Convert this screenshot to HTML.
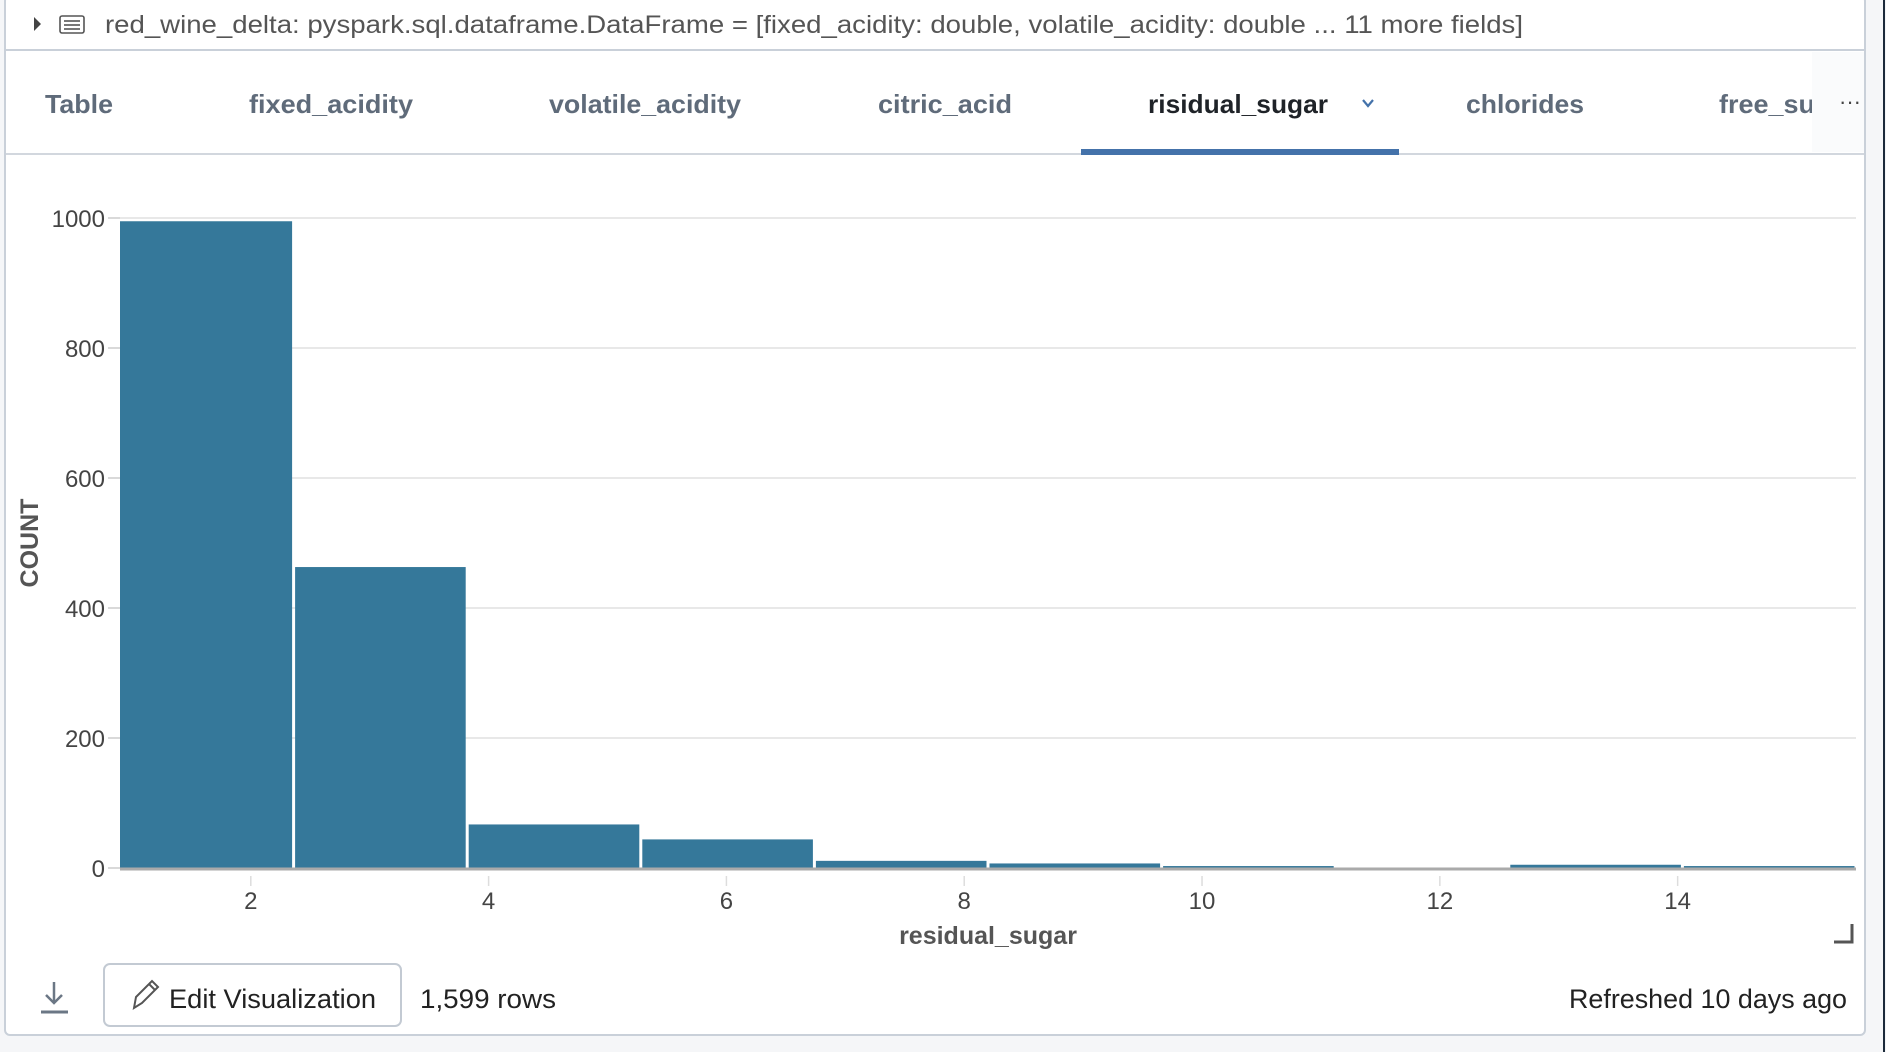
<!DOCTYPE html>
<html><head><meta charset="utf-8"><style>
html,body{margin:0;padding:0;background:#f5f6f8;}
svg{display:block;font-family:"Liberation Sans",sans-serif;}
</style></head><body>
<svg id="root" width="1886" height="1052" viewBox="0 0 1886 1052" xmlns="http://www.w3.org/2000/svg">
  <rect x="0" y="0" width="1886" height="1052" fill="#f5f6f8"/>
  <rect x="5" y="-4" width="1860" height="1039" rx="5" fill="#fff" stroke="#c9d0d9" stroke-width="2"/>
  <line x1="1884" y1="0" x2="1884" y2="1052" stroke="#1c2a3a" stroke-width="2"/>
  <!-- header -->
  <path d="M34 17 L41 24 L34 31 Z" fill="#444"/>
  <g fill="none" stroke="#555" stroke-width="1.6">
    <rect x="60" y="16" width="24" height="17" rx="2"/>
    <line x1="64" y1="21" x2="80" y2="21"/><line x1="64" y1="25" x2="80" y2="25"/><line x1="64" y1="29" x2="80" y2="29"/>
  </g>
  <text x="105" y="33" font-size="25" fill="#555" textLength="1418" lengthAdjust="spacingAndGlyphs">red_wine_delta:  pyspark.sql.dataframe.DataFrame = [fixed_acidity: double, volatile_acidity: double ... 11 more fields]</text>
  <line x1="6" y1="50" x2="1864" y2="50" stroke="#c9d0d9" stroke-width="2"/>
  <!-- tabs -->
  <g font-size="26" font-weight="bold" fill="#5f6b7a">
    <text x="45" y="113" textLength="68" lengthAdjust="spacingAndGlyphs">Table</text>
    <text x="249" y="113" textLength="164" lengthAdjust="spacingAndGlyphs">fixed_acidity</text>
    <text x="549" y="113" textLength="192" lengthAdjust="spacingAndGlyphs">volatile_acidity</text>
    <text x="878" y="113" textLength="134" lengthAdjust="spacingAndGlyphs">citric_acid</text>
    <text x="1148" y="113" textLength="180" lengthAdjust="spacingAndGlyphs" fill="#1f2328">risidual_sugar</text>
    <text x="1466" y="113" textLength="118" lengthAdjust="spacingAndGlyphs">chlorides</text>
    <text x="1719" y="113" textLength="96" lengthAdjust="spacingAndGlyphs">free_su</text>
  </g>
  <path d="M1363 100 L1368 106 L1373 100" fill="none" stroke="#4472aa" stroke-width="2.2"/>
  <rect x="1812" y="52" width="52" height="100" fill="#fafbfc"/>
  <text x="1839" y="109" font-size="22" fill="#444">···</text>
  <line x1="6" y1="154" x2="1864" y2="154" stroke="#d2d7de" stroke-width="2"/>
  <rect x="1081" y="149" width="318" height="6" fill="#4472aa"/>
  <!-- chart -->
  <g id="chart"></g>
  <text x="988" y="944" text-anchor="middle" font-size="25" font-weight="bold" fill="#555">residual_sugar</text>
  <text transform="translate(38 543) rotate(-90)" text-anchor="middle" font-size="25" font-weight="bold" fill="#555">COUNT</text>
  <path d="M1834 942 L1852 942 L1852 924" fill="none" stroke="#555" stroke-width="3"/>
  <!-- footer -->
  <g stroke="#6b7785" stroke-width="2.5" fill="none">
    <line x1="54" y1="982" x2="54" y2="1003"/><path d="M46 995 L54 1003 L62 995"/><line x1="41" y1="1012" x2="68" y2="1012" stroke-width="3"/>
  </g>
  <rect x="104" y="964" width="297" height="62" rx="6" fill="#fff" stroke="#c3cad3" stroke-width="2"/>
  <g fill="none" stroke="#555" stroke-width="2">
    <path d="M134 1008 L136 997 L152 981 L158 987 L142 1003 Z"/><line x1="149" y1="984" x2="155" y2="990"/>
  </g>
  <text x="169" y="1008" font-size="27" fill="#222" textLength="207" lengthAdjust="spacingAndGlyphs">Edit Visualization</text>
  <text x="420" y="1008" font-size="27" fill="#222" textLength="136" lengthAdjust="spacingAndGlyphs">1,599 rows</text>
  <text x="1847" y="1008" text-anchor="end" font-size="27" fill="#222" textLength="278" lengthAdjust="spacingAndGlyphs">Refreshed 10 days ago</text>
</svg>
<script>
const binEdges = [0.9, 2.36, 3.82, 5.28, 6.74, 8.2, 9.66, 11.12, 12.58, 14.04, 15.5];
const counts = [995, 463, 67, 44, 11, 7, 3, 0, 5, 3];
const yTicks = [0, 200, 400, 600, 800, 1000];
const xTicks = [2, 4, 6, 8, 10, 12, 14];

const NS = 'http://www.w3.org/2000/svg';
const g = document.getElementById('chart');
const X0 = 120, X1 = 1856, Y0 = 868, Y1 = 218;
const xMin = binEdges[0], xMax = binEdges[binEdges.length - 1];
function xs(v){ return X0 + (v - xMin) / (xMax - xMin) * (X1 - X0); }
function ys(v){ return Y0 - v / 1000 * (Y0 - Y1); }
function mk(tag, attrs){ const e = document.createElementNS(NS, tag); for (const k in attrs) e.setAttribute(k, attrs[k]); g.appendChild(e); return e; }

yTicks.forEach(t => {
  const y = ys(t);
  if (t > 0) {
    const gl = mk('line', {x1: X0, x2: X1, y1: y, y2: y, stroke: '#e8e8e8', 'stroke-width': 2});
    
    
  }
  const tk = mk('line', {x1: X0 - 12, x2: X0, y1: y, y2: y, stroke: '#ccc', 'stroke-width': 1.5});
  
  
  const lb = mk('text', {x: 105, y: y + 9, 'text-anchor': 'end', 'font-size': 24, fill: '#444'});
  lb.textContent = t;
  
  
});

counts.forEach((c, i) => {
  const xa = xs(binEdges[i]), xb = xs(binEdges[i + 1]);
  const r = mk('rect', {x: xa + (i ? 1.5 : 0), y: ys(c), width: Math.max(0, xb - xa - (i ? 3 : 1.5)), height: Y0 - ys(c), fill: '#35789a'});
  
  
});

const ax = mk('line', {x1: X0, x2: X1, y1: Y0 + 1, y2: Y0 + 1, stroke: '#aaa', 'stroke-width': 3});



xTicks.forEach(t => {
  const x = xs(t);
  const tk = mk('line', {x1: x, x2: x, y1: 876, y2: 886, stroke: '#ddd', 'stroke-width': 1.5});
  
  
  const lb = mk('text', {x: x, y: 909, 'text-anchor': 'middle', 'font-size': 24, fill: '#444'});
  lb.textContent = t;
  
  
});
</script>
</body></html>
